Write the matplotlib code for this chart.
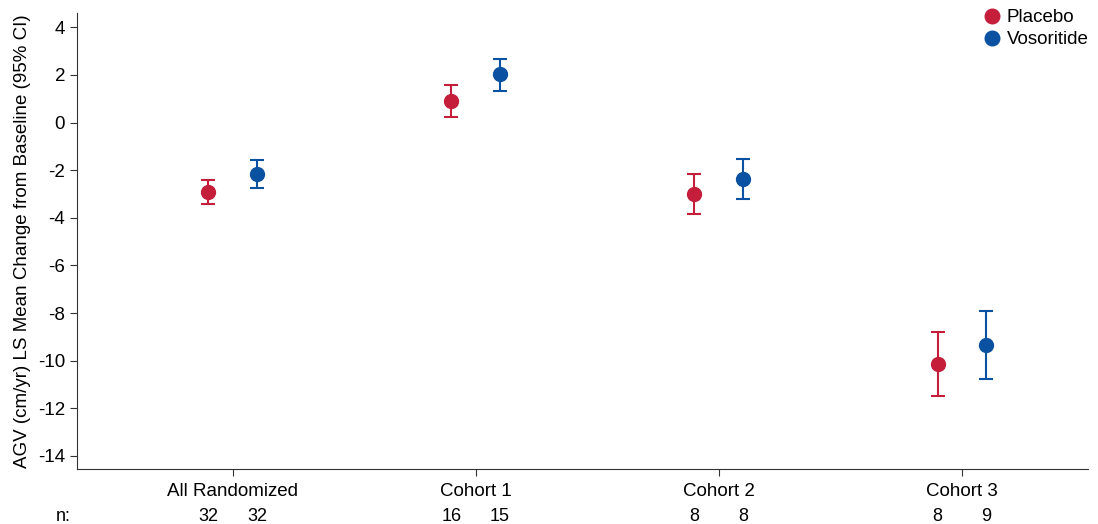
import matplotlib.pyplot as plt
from matplotlib.lines import Line2D

plt.rcParams["font.family"] = ["Liberation Sans", "DejaVu Sans"]
plt.rcParams["axes.unicode_minus"] = False

categories = ["All Randomized", "Cohort 1", "Cohort 2", "Cohort 3"]

placebo_mean = [-2.91, 0.91, -3.01, -10.13]
placebo_lo = [-3.43, 0.23, -3.86, -11.50]
placebo_hi = [-2.43, 1.56, -2.14, -8.81]
placebo_n = [32, 16, 8, 8]

voso_mean = [-2.14, 2.03, -2.35, -9.34]
voso_lo = [-2.74, 1.31, -3.23, -10.76]
voso_hi = [-1.58, 2.68, -1.51, -7.91]
voso_n = [32, 15, 8, 9]

RED = "#C41E3A"
BLUE = "#0A51A1"
OFFSET = 0.1
FS = 13.5
N_Y = -0.114  # baseline of the n: row, in axes units

fig = plt.figure(figsize=(10.98, 5.24), dpi=100)
ax = fig.add_axes([0.0701, 0.105, 0.921, 0.870])

x = list(range(len(categories)))
series = [
    (placebo_mean, placebo_lo, placebo_hi, placebo_n, RED, -OFFSET, "Placebo"),
    (voso_mean, voso_lo, voso_hi, voso_n, BLUE, OFFSET, "Vosoritide"),
]
handles = []
for mean, lo, hi, n, color, off, label in series:
    xs = [i + off for i in x]
    err = [[m - l for m, l in zip(mean, lo)], [h - m for m, h in zip(mean, hi)]]
    ax.errorbar(xs, mean, yerr=err, fmt="o", color=color, ms=10,
                capsize=5, elinewidth=1.5, capthick=1.5)
    for xi, ni in zip(xs, n):
        ax.text(xi, N_Y, str(ni), transform=ax.get_xaxis_transform(),
                ha="center", va="baseline", fontsize=13)
    handles.append(Line2D([], [], marker="o", ls="none", color=color,
                          ms=10.5, label=label))

ax.set_xlim(-0.64, 3.52)
ax.set_ylim(-14.55, 4.6)
ax.set_yticks(range(-14, 5, 2))
ax.set_xticks(x)
ax.set_xticklabels(categories)
ax.tick_params(axis="both", labelsize=FS, length=5, color="#333333")
ax.tick_params(axis="x", pad=5)
for side in ("top", "right"):
    ax.spines[side].set_visible(False)
for side in ("left", "bottom"):
    ax.spines[side].set_color("#333333")
ax.set_ylabel("AGV (cm/yr) LS Mean Change from Baseline (95% CI)", fontsize=FS,
              labelpad=5)

ax.text(-0.014, N_Y, "n:", transform=ax.transAxes, ha="center",
        va="baseline", fontsize=13)

fig.legend(handles=handles, loc="upper right", bbox_to_anchor=(1.0, 1.0),
           frameon=False, fontsize=FS, handletextpad=0.2, labelspacing=0.25,
           handlelength=1.2, borderaxespad=0.1)

fig.savefig("out.png", dpi=100)
